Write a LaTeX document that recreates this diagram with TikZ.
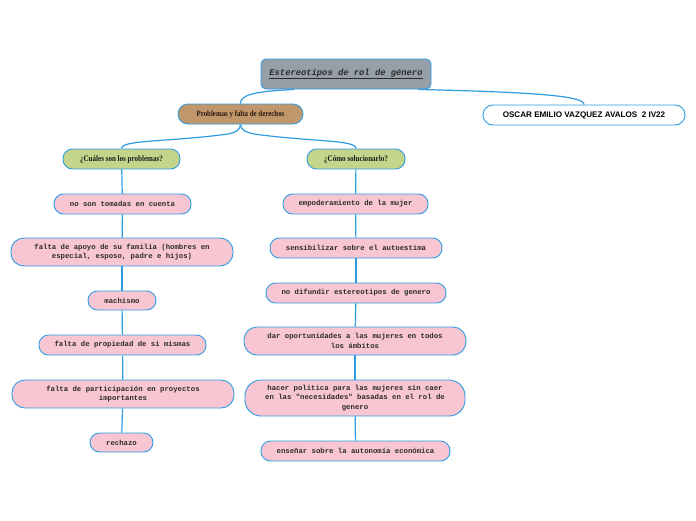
\documentclass[tikz,border=0pt]{standalone}
\usepackage{fontspec}
\newfontfamily\monof{Liberation Mono}
\newfontfamily\serifn{Liberation Serif}[FakeStretch=0.84]
\newfontfamily\sansf{Liberation Sans}
\definecolor{lineblue}{HTML}{2E9BE2}
\definecolor{pinkfill}{HTML}{F8C6D2}
\definecolor{greenfill}{HTML}{C3D48B}
\definecolor{tanfill}{HTML}{C0976A}
\definecolor{grayfill}{HTML}{969FA8}
\definecolor{textdark}{HTML}{2B2B2B}
\tikzset{
  base/.style={draw=lineblue, line width=0.9pt, inner sep=0pt, align=center, text=textdark},
  pinkbox/.style={base, fill=pinkfill, rounded corners=9.5pt, font=\monof\bfseries\fontsize{7.3}{9.6}\selectfont},
  greenbox/.style={base, fill=greenfill, rounded corners=9.5pt, minimum height=20pt, font=\serifn\bfseries\fontsize{8.4}{9}\selectfont, text=black!90},
  conn/.style={draw=lineblue, line width=1.2pt}
}
\begin{document}
\begin{tikzpicture}[x=1pt,y=-1pt]
\useasboundingbox (0,0) rectangle (696,520);
% top
\node[base, fill=grayfill, rounded corners=5pt, minimum width=170pt, minimum height=30pt,
  font=\monof\bfseries\itshape\fontsize{8.8}{10}\selectfont] (title) at (346,74) {\underline{Estereotipos de rol de género}};
\node[base, fill=tanfill, rounded corners=10pt, minimum width=125pt, minimum height=20pt,
  font=\serifn\bfseries\fontsize{8.2}{9}\selectfont, text=black!80!brown] (prob) at (240.5,114) {Problemas y falta de derechos};
\node[base, fill=white, rounded corners=10pt, minimum width=202pt, minimum height=20pt,
  font=\sansf\bfseries\fontsize{8.1}{9}\selectfont, text=black] (author) at (584,115) {OSCAR EMILIO VAZQUEZ AVALOS\ \ 2 IV22};
\node[greenbox, minimum width=117pt] (cuales) at (121.5,159) {¿Cuáles son los problemas?};
\node[greenbox, minimum width=98pt] (como) at (356,159) {¿Cómo solucionarlo?};
% left column
\node[pinkbox, minimum width=137pt, minimum height=20pt] (l1) at (122.5,204) {no son tomadas en cuenta};
\node[pinkbox, minimum width=222pt, minimum height=28pt, rounded corners=13pt] (l2) at (122,252) {falta de apoyo de su familia (hombres en\\especial, esposo, padre e hijos)};
\node[pinkbox, minimum width=68pt, minimum height=19pt] (l3) at (122,300.5) {machismo};
\node[pinkbox, minimum width=167pt, minimum height=20pt] (l4) at (122.5,345) {falta de propiedad de si mismas};
\node[pinkbox, minimum width=222pt, minimum height=28pt, rounded corners=13pt] (l5) at (123,394) {falta de participación en proyectos\\importantes};
\node[pinkbox, minimum width=63pt, minimum height=19pt] (l6) at (121.5,442.5) {rechazo};
% right column
\node[pinkbox, minimum width=145pt, minimum height=20pt] (r1) at (355.5,204) {empoderamiento de la mujer};
\node[pinkbox, minimum width=172pt, minimum height=20pt] (r2) at (356,248) {sensibilizar sobre el autoestima};
\node[pinkbox, minimum width=180pt, minimum height=20pt] (r3) at (356,293) {no difundir estereotipos de genero};
\node[pinkbox, minimum width=222pt, minimum height=28pt, rounded corners=13pt] (r4) at (355,341) {dar oportunidades a las mujeres en todos\\los ámbitos};
\node[pinkbox, minimum width=220pt, minimum height=36pt, rounded corners=16pt] (r5) at (355,398) {hacer politica para las mujeres sin caer\\en las "necesidades" basadas en el rol de\\genero};
\node[pinkbox, minimum width=189pt, minimum height=20pt] (r6) at (355.5,451) {enseñar sobre la autonomía económica};
% connectors
\coordinate (sl) at (228,134);
\coordinate (sr) at (254,134);
\draw[conn] ([xshift=-52pt]title.south) .. controls ([xshift=-95pt,yshift=-2pt]title.south) and ([yshift=8pt]prob.north) .. (prob.north);
\draw[conn] ([xshift=72pt]title.south) .. controls ([xshift=200pt,yshift=-3pt]title.south) and ([yshift=8pt]author.north) .. (author.north);
\draw[conn] (prob.south) .. controls ([yshift=-6pt]prob.south) and ([xshift=7pt,yshift=1.5pt]sl) .. (sl)
  .. controls ([xshift=-58pt,yshift=-8pt]sl) and ([yshift=9pt]cuales.north) .. (cuales.north);
\draw[conn] (prob.south) .. controls ([yshift=-6pt]prob.south) and ([xshift=-7pt,yshift=1.5pt]sr) .. (sr)
  .. controls ([xshift=58pt,yshift=-8pt]sr) and ([yshift=9pt]como.north) .. (como.north);
\draw[conn] (cuales) -- (l1);
\draw[conn] (l1) -- (l2);
\draw[conn] (l2) -- (l3);
\draw[conn] (l3) -- (l4);
\draw[conn] (l4) -- (l5);
\draw[conn] (l5) -- (l6);
\draw[conn] (como) -- (r1);
\draw[conn] (r1) -- (r2);
\draw[conn] (r2) -- (r3);
\draw[conn] (r3) -- (r4);
\draw[conn] (r4) -- (r5);
\draw[conn] (r5) -- (r6);
\end{tikzpicture}
\end{document}
